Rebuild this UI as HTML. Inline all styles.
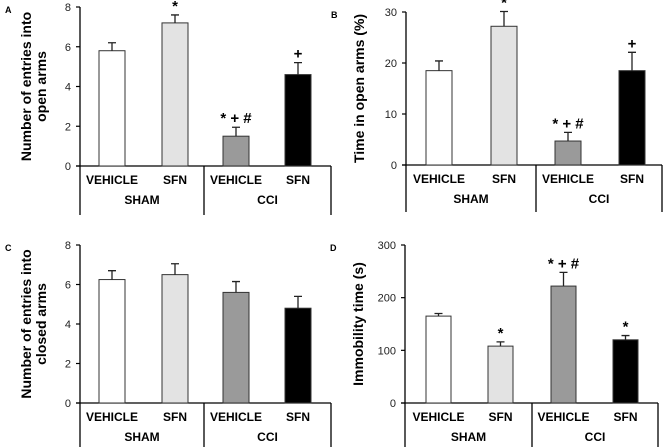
<!DOCTYPE html>
<html><head><meta charset="utf-8"><style>
body{margin:0;background:#fff;}
svg{display:block;font-family:"Liberation Sans",Arial,sans-serif;}
</style></head><body>
<svg id="fig" width="666" height="447" viewBox="0 0 666 447"></svg>
<script>
const categories=["VEHICLE","SFN","VEHICLE","SFN"];
const groups=["SHAM","CCI"];
const fills=["#ffffff","#e3e3e3","#9a9a9a","#000000"];
const valuesA=[5.8,7.2,1.5,4.6];
const errorsA=[0.4,0.4,0.45,0.6];
const marksA=["","*","*+#","+"];
const valuesB=[18.5,27.2,4.7,18.5];
const errorsB=[1.9,2.9,1.7,3.6];
const marksB=["","*","*+#","+"];
const valuesC=[6.25,6.5,5.6,4.8];
const errorsC=[0.45,0.55,0.55,0.6];
const marksC=["","","",""];
const valuesD=[165,108,222,120];
const errorsD=[5,8,26,8];
const marksD=["","*","*+#","*"];
const ticksA=[0,2,4,6,8];
const ticksB=[0,10,20,30];
const ticksC=[0,2,4,6,8];
const ticksD=[0,100,200,300];
const NS="http://www.w3.org/2000/svg";
const svg=document.getElementById('fig');
function mk(tag,attrs,parent){const e=document.createElementNS(NS,tag);for(const k in attrs)e.setAttribute(k,attrs[k]);(parent||svg).appendChild(e);return e;}
function panel(p){
  const g=mk('g',{});
  
  
  const max=p.ticks[p.ticks.length-1];
  const y=v=>p.y0-(v/max)*(p.y0-p.yTop);
  const lt=mk('text',{x:p.ax-75,y:p.yTop+6,'font-size':9,'font-weight':'bold'},g);lt.textContent=p.letter;
  
  
  const ax=mk('line',{x1:p.ax,y1:p.yTop,x2:p.ax,y2:p.bottom,stroke:'#000','stroke-width':1.3},g);
  
  
  const xa=mk('line',{x1:p.ax-4,y1:p.y0,x2:p.right,y2:p.y0,stroke:'#000','stroke-width':1.3},g);
  
  
  mk('line',{x1:p.div,y1:p.y0,x2:p.div,y2:p.bottom,stroke:'#000','stroke-width':1.3},g);
  mk('line',{x1:p.right,y1:p.y0,x2:p.right,y2:p.bottom,stroke:'#000','stroke-width':1.3},g);
  p.ticks.forEach(t=>{
    mk('line',{x1:p.ax-4,y1:y(t),x2:p.ax,y2:y(t),stroke:'#000','stroke-width':1.2},g);
    const tt=mk('text',{x:p.ax-9,y:y(t)+4,'font-size':11,'text-anchor':'end',fill:'#222'},g);tt.textContent=t;
    
    
  });
  const ty=mk('text',{transform:`translate(${p.ax-46},${(p.y0+p.yTop)/2}) rotate(-90)`,'font-size':14,'font-weight':'bold','text-anchor':'middle'},g);
  
  
  p.title.forEach((s,i)=>{const ts=mk('tspan',{x:0,dy:i===0?(p.title.length>1?-3:4):15},ty);ts.textContent=s;});
  p.values.forEach((v,i)=>{
    const x=p.bx[i];
    const bar=mk('rect',{x:x,y:y(v),width:p.bw,height:p.y0-y(v),fill:fills[i],stroke:'#333','stroke-width':1},g);
    
    
    const cx=x+p.bw/2, top=y(v+p.errors[i]);
    const eb=mk('path',{d:`M${cx},${y(v)}V${top}M${cx-4},${top}H${cx+4}`,stroke:'#222','stroke-width':1.3,fill:'none'},g);
    
    
    if(p.marks[i]){const m=mk('text',{x:cx,y:top-4,'font-size':15,'font-weight':'bold','text-anchor':'middle'},g);m.textContent=p.marks[i].split('').join(' ');
      
      }
    const cl=mk('text',{x:cx,y:p.y0+18,'font-size':12,'font-weight':'bold','text-anchor':'middle'},g);cl.textContent=categories[i];
    
    
  });
  groups.forEach((gname,i)=>{
    const cx=i===0?(p.ax+p.div)/2:(p.div+p.right)/2;
    const gl=mk('text',{x:cx,y:p.y0+38,'font-size':12,'font-weight':'bold','text-anchor':'middle'},g);gl.textContent=gname;
    
    
  });
}
panel({letter:'A',ax:80,y0:166,yTop:7,bottom:215,div:204,right:331,bx:[99,162,223,285],bw:26,ticks:ticksA,values:valuesA,errors:errorsA,marks:marksA,title:['Number of entries into','open arms']});
panel({letter:'B',ax:406,y0:165,yTop:12,bottom:212,div:536,right:662,bx:[426,491,555,619],bw:26,ticks:ticksB,values:valuesB,errors:errorsB,marks:marksB,title:['Time in open arms (%)']});
panel({letter:'C',ax:80,y0:403,yTop:245,bottom:447,div:204,right:331,bx:[99,162,223,285],bw:26,ticks:ticksC,values:valuesC,errors:errorsC,marks:marksC,title:['Number of entries into','closed arms']});
panel({letter:'D',ax:405,y0:403,yTop:245,bottom:447,div:532,right:658,bx:[426,488,551,613],bw:25,ticks:ticksD,values:valuesD,errors:errorsD,marks:marksD,title:['Immobility time (s)']});
</script>
</body></html>
